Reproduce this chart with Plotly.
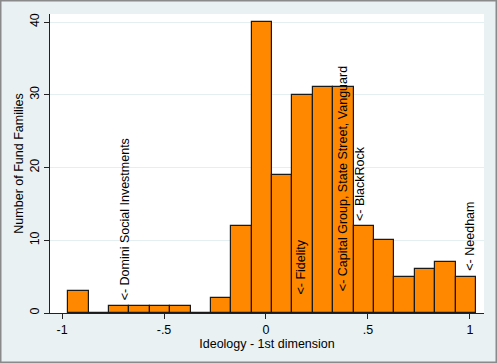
import plotly.graph_objects as go

# Histogram data (bin centers, width 0.1)
bin_centers = [-0.92, -0.82, -0.72, -0.62, -0.52, -0.42, -0.32, -0.22, -0.12, -0.02,
               0.08, 0.18, 0.28, 0.38, 0.48, 0.58, 0.68, 0.78, 0.88, 0.98]
counts = [3, 0, 1, 1, 1, 1, 0, 2, 12, 40, 19, 30, 31, 31, 12, 10, 5, 6, 7, 5]
bin_width = 0.1

x_tick_vals = [-1, -0.5, 0, 0.5, 1]
x_tick_text = ["-1", "-.5", "0", ".5", "1"]
y_tick_vals = [0, 10, 20, 30, 40]

label_texts = ["&lt;- Domini Social Investments", "&lt;- Fidelity",
               "&lt;- Capital Group, State Street, Vanguard", "&lt;- BlackRock", "&lt;- Needham"]
label_x = [-0.69, 0.167, 0.379, 0.461, 1.0]
label_y = [1.5, 2.2, 2.7, 12.3, 5.6]

FONT = "Liberation Sans, Arial, Helvetica, sans-serif"

fig = go.Figure()
fig.add_trace(go.Bar(
    x=bin_centers, y=counts, width=bin_width,
    marker=dict(color="#ff8800", line=dict(color="#1a1a1a", width=1.2)),
    showlegend=False,
))

for t, x, y in zip(label_texts, label_x, label_y):
    fig.add_annotation(x=x, y=y, text=t, textangle=-90, showarrow=False,
                       xanchor="center", yanchor="bottom",
                       font=dict(family=FONT, size=12.5, color="#000"))

L, R, T, B = 50, 13, 14, 50
W, H = 497, 363
pw, ph = W - L - R, H - T - B
fig.add_shape(type="rect", xref="paper", yref="paper",
              x0=-(L - 0.75) / pw, x1=1 + (R - 0.75) / pw,
              y0=-(B - 0.75) / ph, y1=1 + (T - 0.75) / ph,
              line=dict(color="#8a8a8a", width=1.5), layer="above")

fig.update_layout(
    width=W, height=H,
    margin=dict(l=L, r=R, t=T, b=B, autoexpand=False),
    paper_bgcolor="#e9f1f3", plot_bgcolor="#ffffff",
    font=dict(family=FONT, size=12.5, color="#000"),
    bargap=0,
    xaxis=dict(range=[-1.059, 1.069], tickvals=x_tick_vals, ticktext=x_tick_text,
               ticks="outside", ticklen=5, tickcolor="#222", showline=True,
               linecolor="#222", linewidth=1, showgrid=False, zeroline=False,
               title=dict(text="Ideology - 1st dimension", standoff=1,
                          font=dict(size=12.5)),
               tickfont=dict(size=12.5)),
    yaxis=dict(range=[0, 41.1], tickvals=y_tick_vals, tickangle=-90,
               ticks="outside", ticklen=5, tickcolor="#222", showline=True,
               linecolor="#222", linewidth=1, showgrid=True, gridcolor="#e3eff0",
               gridwidth=1, zeroline=False,
               title=dict(text="Number of Fund Families", standoff=1,
                          font=dict(size=12.5)),
               tickfont=dict(size=12.5)),
)

fig.write_html("out.html", config={"displayModeBar": False},
               post_script="document.body.style.margin='0';")
